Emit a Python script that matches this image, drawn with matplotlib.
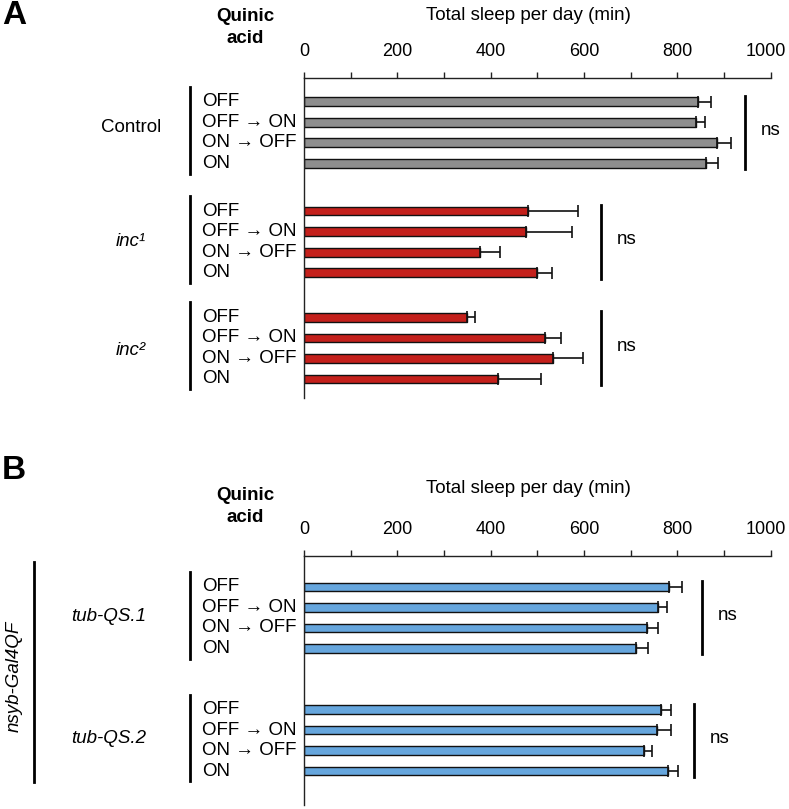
import matplotlib
matplotlib.use('Agg')
import matplotlib.pyplot as plt
from matplotlib import transforms
from matplotlib.lines import Line2D

plt.rcParams['font.family'] = ['Liberation Sans', 'DejaVu Sans']
plt.rcParams['font.size'] = 13.5

# data (total sleep per day, min; mean and SEM)
conditions = ['OFF', 'OFF \u2192 ON', 'ON \u2192 OFF', 'ON']
control_mean = [845, 839, 886, 862]
control_err = [28, 20, 29, 25]
inc1_mean = [479, 475, 377, 499]
inc1_err = [109, 99, 44, 33]
inc2_mean = [349, 516, 534, 416]
inc2_err = [18, 35, 64, 91]
qs1_mean = [783, 758, 734, 712]
qs1_err = [26, 20, 25, 26]
qs2_mean = [764, 757, 728, 779]
qs2_err = [22, 29, 18, 22]

W, H = 789, 809
fig = plt.figure(figsize=(W / 100, H / 100), dpi=100)


def fx(x):
    return x / W


def fy(y):
    return 1 - y / H


def make_axes(top, bottom, ylo, yhi):
    ax = fig.add_axes([fx(304), fy(bottom), fx(770.7) - fx(304), (bottom - top) / H])
    ax.set_xlim(0, 1000)
    ax.set_ylim(yhi, ylo)
    ax.xaxis.tick_top()
    ax.set_xticks(range(0, 1001, 200))
    ax.set_xticks(range(0, 1001, 100), minor=True)
    ax.tick_params(axis='x', which='both', direction='out', length=4, width=1, pad=9, colors='#222222')
    ax.tick_params(axis='x', labelcolor='black', labelsize=13)
    ax.set_yticks([])
    for s in ['right', 'bottom']:
        ax.spines[s].set_visible(False)
    for s in ['left', 'top']:
        ax.spines[s].set_linewidth(1)
        ax.spines[s].set_color('#222222')
    # keep "1000" inside the figure
    fig.canvas.draw()
    last = ax.get_xticklabels()[-1]
    last.set_transform(last.get_transform() + transforms.ScaledTranslation(-5 / 100, 0, fig.dpi_scale_trans))
    return ax


def draw_group(ax, start, means, errs, color, label, label_x, label_dy, italic, ns_x):
    ys = [start + i for i in range(len(means))]
    ax.barh(ys, means, height=0.42, color=color, edgecolor='#111111', linewidth=1, zorder=2)
    ax.errorbar(means, ys, xerr=[[0] * len(errs), errs], fmt='none', ecolor='#111111',
                elinewidth=1.2, capsize=4, capthick=1.2, zorder=3)
    trans = transforms.blended_transform_factory(fig.transFigure, ax.transData)
    for y, c in zip(ys, conditions):
        ax.text(fx(201.7), y, c, transform=trans, ha='left', va='center')
    ax.plot([fx(190)] * 2, [start - 0.73, start + 3.5], transform=trans, color='k', lw=2, clip_on=False)
    ax.text(fx(label_x), start + label_dy, label, transform=trans, ha='center', va='center',
            style='italic' if italic else 'normal')
    ax.plot([ns_x, ns_x], [start - 0.3, start + 3.3], color='k', lw=2, clip_on=False)
    ax.text(ns_x + 34, start + 1.4, 'ns', ha='left', va='center')


# panel A
axA = make_axes(77.7, 398, -1.17, 14.43)
draw_group(axA, 0, control_mean, control_err, '#8e8e8e', 'Control', 131, 1.25, False, 945)
draw_group(axA, 5.33, inc1_mean, inc1_err, '#c4201b', 'inc\u00b9', 131, 1.5, True, 636)
draw_group(axA, 10.5, inc2_mean, inc2_err, '#c4201b', 'inc\u00b2', 131, 1.6, True, 636)
fig.text(fx(2), fy(16), 'A', fontsize=24, fontweight='bold', ha='left', va='center')
fig.text(fx(245), fy(27.3), 'Quinic\nacid', fontweight='bold', ha='center', va='center', linespacing=1.35)
fig.text(fx(528), fy(15.7), 'Total sleep per day (min)', ha='center', va='center')

# panel B
axB = make_axes(556.3, 805, -1.5, 10.66)
draw_group(axB, 0, qs1_mean, qs1_err, '#66a6dd', 'tub-QS.1', 108.3, 1.45, True, 853)
draw_group(axB, 6, qs2_mean, qs2_err, '#66a6dd', 'tub-QS.2', 108.3, 1.4, True, 836)
fig.text(fx(2), fy(470), 'B', fontsize=24, fontweight='bold', ha='left', va='center')
fig.text(fx(245), fy(506.7), 'Quinic\nacid', fontweight='bold', ha='center', va='center', linespacing=1.35)
fig.text(fx(528), fy(488.3), 'Total sleep per day (min)', ha='center', va='center')
fig.text(fx(14), fy(676.7), 'nsyb-Gal4QF', rotation=90, style='italic', ha='center', va='center')
fig.add_artist(Line2D([fx(34.3)] * 2, [fy(561.7), fy(781.7)], color='k', lw=2))

fig.savefig('out.png', dpi=100)
